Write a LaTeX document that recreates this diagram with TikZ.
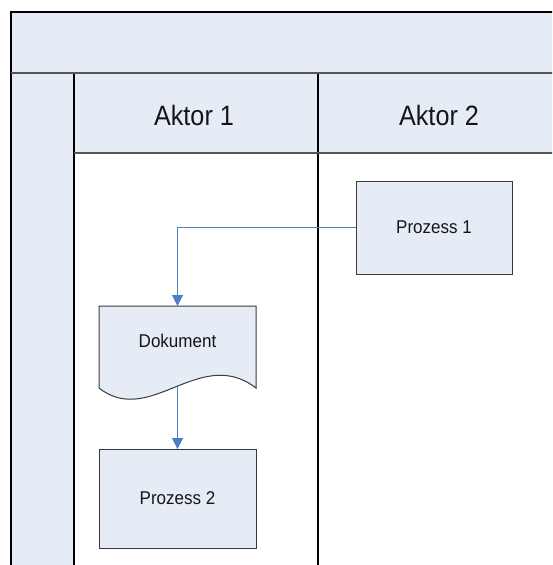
\documentclass[tikz,border=0pt]{standalone}
\usepackage{fontspec}
\setmainfont{Liberation Sans}
\newfontfamily\hdfont[FakeStretch=0.9]{Liberation Sans}
\newfontfamily\bxfont[FakeStretch=0.92]{Liberation Sans}
\usetikzlibrary{arrows.meta}
\definecolor{lanefill}{HTML}{E6ECF6}
\definecolor{flowblue}{HTML}{4F7CC6}
\definecolor{boxline}{HTML}{3A3A3A}
\definecolor{sepgray}{HTML}{555555}
\definecolor{txt}{HTML}{151515}
\tikzset{
  laneline/.style={draw=black, line width=1.2pt},
  sepline/.style={draw=sepgray, line width=1.8pt},
  hdtext/.style={font=\hdfont\fontsize{28}{30}\selectfont, text=txt, anchor=base, inner sep=0pt},
  procbox/.style={draw=boxline, fill=lanefill, line width=1pt, minimum width=156pt, minimum height=93pt, inner sep=0pt, outer sep=0pt, font=\bxfont\fontsize{18.5}{20}\selectfont, text=txt},
  doctext/.style={font=\bxfont\fontsize{18.5}{20}\selectfont, text=txt, inner sep=0pt},
  docshape/.style={draw=boxline, fill=lanefill, line width=1pt},
  flow/.style={draw=flowblue, line width=1pt, -{Triangle[length=11pt,width=11pt]}}
}
\begin{document}
\begin{tikzpicture}[x=1pt,y=-1pt]
\useasboundingbox (0,0) rectangle (552,565);
\clip (0,0) rectangle (552,565);
% fills
\fill[lanefill] (11,12) rectangle (570,73);
\fill[lanefill] (11,73) rectangle (74,575);
\fill[lanefill] (74,73) rectangle (570,153);
% lines
\draw[laneline] (11,575) -- (11,12) -- (570,12);
\draw[laneline] (74,73) -- (74,575);
\draw[laneline] (318,73) -- (318,575);
\draw[sepline] (11,73) -- (570,73);
\draw[sepline] (74,153) -- (570,153);
% headers
\node[hdtext] (a1) at (194,125.5) {Aktor 1};
\node[hdtext] (a2) at (439,125.5) {Aktor 2};
% Prozess 1
\node[procbox] (p1) at (434,227.5) {Prozess 1};
% Dokument
\draw[docshape] (99,388) -- (99,306) -- (256,306) -- (256,388)
  .. controls (200,345) and (150,428) .. (99,388) -- cycle;
\node[doctext] (doc) at (177.5,341) {Dokument};
\coordinate (doctop) at (177.5,306);
\coordinate (docbot) at (177.5,387);
% Prozess 2
\node[procbox, minimum width=157pt, minimum height=99pt] (p2) at (177.5,498.5) {Prozess 2};
% connectors
\draw[flow] (p1.west) -| (doctop);
\draw[flow] (docbot) -- (p2.north);
\end{tikzpicture}
\end{document}
